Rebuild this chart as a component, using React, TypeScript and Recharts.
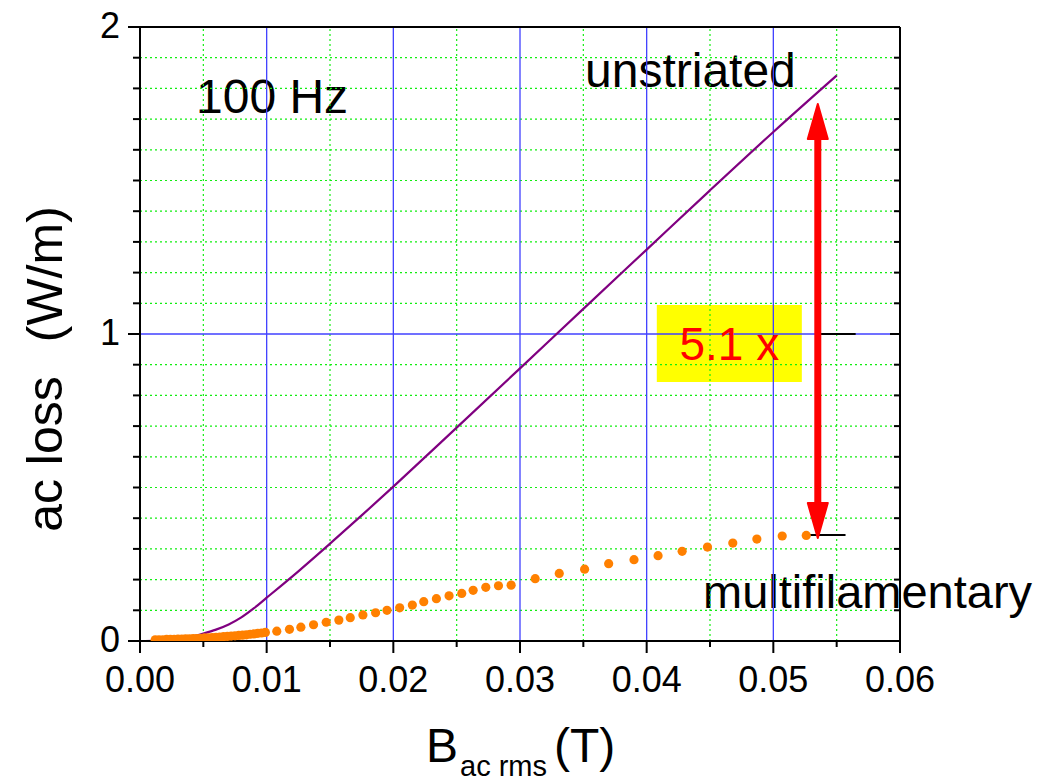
import React from "react";
import {
  ComposedChart,
  Line,
  Scatter,
  XAxis,
  YAxis,
  ReferenceLine,
  ReferenceArea,
  Customized,
} from "recharts";

// ---- data ----
const unstriatedB = [0.0004, 0.001, 0.002, 0.003, 0.004, 0.005, 0.006, 0.007, 0.008, 0.009, 0.01, 0.0125, 0.015, 0.0175, 0.02, 0.025, 0.03, 0.035, 0.04, 0.045, 0.05, 0.055];
const unstriatedLoss = [0, 0.0004, 0.002, 0.006, 0.013, 0.024, 0.037, 0.054, 0.077, 0.107, 0.141, 0.227, 0.317, 0.409, 0.503, 0.695, 0.888, 1.082, 1.275, 1.468, 1.658, 1.842];

const multiB = [
  0.0012, 0.0015, 0.0018, 0.0021, 0.0024, 0.0027, 0.003, 0.0033, 0.0036, 0.0039,
  0.0042, 0.0045, 0.0048, 0.0051, 0.0054, 0.0057, 0.006, 0.0063, 0.0066, 0.0069,
  0.0072, 0.0075, 0.0078, 0.0081, 0.0084, 0.0087, 0.009, 0.0093, 0.0096, 0.0099,
  0.0108, 0.0118, 0.0127, 0.0137, 0.0147, 0.0157, 0.0166, 0.0176, 0.0186, 0.0195,
  0.0205, 0.0215, 0.0224, 0.0234, 0.0244, 0.0254, 0.0263, 0.0273, 0.0283, 0.0293,
  0.0312, 0.0331, 0.0351, 0.037, 0.039, 0.0409, 0.0428, 0.0448, 0.0468, 0.0487,
  0.0507, 0.0526,
];
const multiLoss = [
  0.004, 0.004, 0.004, 0.005, 0.005, 0.005, 0.006, 0.006, 0.007, 0.007,
  0.008, 0.008, 0.009, 0.01, 0.01, 0.011, 0.012, 0.013, 0.014, 0.015,
  0.016, 0.017, 0.018, 0.019, 0.02, 0.022, 0.023, 0.025, 0.026, 0.028,
  0.032, 0.038, 0.045, 0.053, 0.061, 0.068, 0.076, 0.085, 0.092, 0.1,
  0.108, 0.117, 0.128, 0.138, 0.147, 0.155, 0.165, 0.175, 0.18, 0.182,
  0.203, 0.22, 0.234, 0.252, 0.265, 0.278, 0.292, 0.306, 0.319, 0.332,
  0.342, 0.344,
];

const xTicks = [0, 0.005, 0.01, 0.015, 0.02, 0.025, 0.03, 0.035, 0.04, 0.045, 0.05, 0.055, 0.06];
const xTickLabels = ["0.00", "", "0.01", "", "0.02", "", "0.03", "", "0.04", "", "0.05", "", "0.06"];
const yTicks = [0, 0.1, 0.2, 0.3, 0.4, 0.5, 0.6, 0.7, 0.8, 0.9, 1, 1.1, 1.2, 1.3, 1.4, 1.5, 1.6, 1.7, 1.8, 1.9, 2];
const yTickLabels = ["0", "", "", "", "", "", "", "", "", "", "1", "", "", "", "", "", "", "", "", "", "2"];

const greenVGrid = [0.005, 0.015, 0.025, 0.035, 0.045, 0.055];
const blueVGrid = [0.01, 0.02, 0.03, 0.04, 0.05];
const greenHGrid = [0.1, 0.2, 0.3, 0.4, 0.5, 0.6, 0.7, 0.8, 0.9, 1.1, 1.2, 1.3, 1.4, 1.5, 1.6, 1.7, 1.8, 1.9];
const blueHGrid = [1];

// annotation: ratio arrow between curves at B ≈ 0.0535 T
const arrowB = 0.05351;
const arrowTop = 1.749;
const arrowBottom = 0.3355;
const arrowShaftTop = 1.635;
const arrowShaftBottom = 0.446;
const ratioLabel = "5.1 x";
const ratioBox = { x1: 0.0408, x2: 0.05225, y1: 0.8436, y2: 1.0945 };
const markerTop = { x1: 0.0536, x2: 0.0565, y: 1.0 };
const markerBottom = { x1: 0.0527, x2: 0.0557, y: 0.345 };

const unstriatedData = unstriatedB.map((b, i) => ({ x: b, y: unstriatedLoss[i] }));
const multiData = multiB.map((b, i) => ({ x: b, y: multiLoss[i] }));
const arrowData = [
  { x: arrowB, y: arrowTop, dir: "up" },
  { x: arrowB, y: arrowBottom, dir: "down" },
];

const FONT = "'Liberation Sans', Arial, Helvetica, sans-serif";

const labelFor = (v: number, ticks: number[], labels: string[]) => {
  const i = ticks.findIndex((t) => Math.abs(t - v) < 1e-9);
  return i >= 0 ? labels[i] : "";
};

const BottomTick = (p: any) => {
  const lab = labelFor(p.payload.value, xTicks, xTickLabels);
  const major = lab !== "";
  return (
    <g>
      <line x1={p.x} y1={p.y} x2={p.x} y2={p.y + (major ? 12 : 6)} stroke="#000" strokeWidth={2} />
      {major && (
        <text x={p.x} y={p.y + 51} textAnchor="middle" fontSize={36} fontFamily={FONT} fill="#000">
          {lab}
        </text>
      )}
    </g>
  );
};

const TopTick = (p: any) => {
  const major = labelFor(p.payload.value, xTicks, xTickLabels) !== "";
  return <line x1={p.x} y1={p.y} x2={p.x} y2={p.y + (major ? 12 : 6)} stroke="#000" strokeWidth={2} />;
};

const LeftTick = (p: any) => {
  const lab = labelFor(p.payload.value, yTicks, yTickLabels);
  const major = lab !== "";
  return (
    <g>
      <line x1={p.x} y1={p.y} x2={p.x - (major ? 12 : 7)} y2={p.y} stroke="#000" strokeWidth={2} />
      {major && (
        <text x={p.x - 20} y={p.y + 11} textAnchor="end" fontSize={36} fontFamily={FONT} fill="#000">
          {lab}
        </text>
      )}
    </g>
  );
};

const RightTick = (p: any) => {
  const major = labelFor(p.payload.value, yTicks, yTickLabels) !== "";
  return <line x1={p.x} y1={p.y} x2={p.x - (major ? 10 : 6)} y2={p.y} stroke="#000" strokeWidth={2} />;
};

const Dot = (p: any) => <circle cx={p.cx} cy={p.cy} r={4.6} fill="#ff8000" />;

const ArrowHead = (p: any) => {
  const { cx, cy, payload } = p;
  const h = 35;
  const w = 10;
  const d =
    payload.dir === "up"
      ? `M${cx},${cy} L${cx + w},${cy + h} L${cx - w},${cy + h} Z`
      : `M${cx},${cy} L${cx + w},${cy - h} L${cx - w},${cy - h} Z`;
  return <path d={d} fill="#ff0000" stroke="#ff0000" strokeWidth={2} strokeLinejoin="round" />;
};

const Texts = () => (
  <g fontFamily={FONT} fill="#000">
    <text x={196} y={113} fontSize={48}>100 Hz</text>
    <text x={585} y={87} fontSize={48}>unstriated</text>
    <text x={703} y={608} fontSize={47}>multifilamentary</text>
    <text x={426} y={762} fontSize={48}>B</text>
    <text x={460} y={776} fontSize={29}>ac rms</text>
    <text x={554} y={762} fontSize={48}>(T)</text>
    <text transform="translate(62,369) rotate(-90)" textAnchor="middle" fontSize={50}>
      <tspan>ac loss</tspan>
      <tspan dx={34}>(W/m)</tspan>
    </text>
  </g>
);

export default function App() {
  return (
    <div style={{ width: 1041, height: 782, margin: "-8px 0 0 -8px" }}>
      <ComposedChart
        width={1041}
        height={782}
        margin={{ top: 17, right: 131, bottom: 61, left: 60 }}
      >
        <XAxis
          dataKey="x"
          type="number"
          domain={[0, 0.06]}
          allowDataOverflow
          ticks={xTicks}
          interval={0}
          height={80}
          tickSize={0}
          tickMargin={0}
          tickLine={false}
          axisLine={{ stroke: "#000", strokeWidth: 2 }}
          tick={<BottomTick />}
        />
        <XAxis
          xAxisId="top"
          orientation="top"
          type="number"
          domain={[0, 0.06]}
          allowDataOverflow
          ticks={xTicks}
          interval={0}
          height={10}
          tickSize={0}
          tickMargin={0}
          tickLine={false}
          axisLine={{ stroke: "#000", strokeWidth: 2 }}
          tick={<TopTick />}
        />
        <YAxis
          type="number"
          domain={[0, 2]}
          allowDataOverflow
          ticks={yTicks}
          interval={0}
          width={80}
          tickSize={0}
          tickMargin={0}
          tickLine={false}
          axisLine={{ stroke: "#000", strokeWidth: 2 }}
          tick={<LeftTick />}
        />
        <YAxis
          yAxisId="right"
          orientation="right"
          type="number"
          domain={[0, 2]}
          allowDataOverflow
          ticks={yTicks}
          interval={0}
          width={10}
          tickSize={0}
          tickMargin={0}
          tickLine={false}
          axisLine={{ stroke: "#000", strokeWidth: 2 }}
          tick={<RightTick />}
        />

        {greenVGrid.map((v) => (
          <ReferenceLine key={"gv" + v} x={v} stroke="#11ee11" strokeWidth={1.2} strokeDasharray="2 3" />
        ))}
        {greenHGrid.map((v) => (
          <ReferenceLine key={"gh" + v} y={v} stroke="#11ee11" strokeWidth={1.2} strokeDasharray="2 3" />
        ))}
        {blueVGrid.map((v) => (
          <ReferenceLine key={"bv" + v} x={v} stroke="#4040ff" strokeWidth={1.3} />
        ))}
        {blueHGrid.map((v) => (
          <ReferenceLine key={"bh" + v} y={v} stroke="#4040ff" strokeWidth={1.3} />
        ))}

        <Line
          data={unstriatedData}
          dataKey="y"
          type="monotone"
          stroke="#800080"
          strokeWidth={2.2}
          dot={false}
          isAnimationActive={false}
        />
        <Scatter data={multiData} dataKey="y" shape={<Dot />} isAnimationActive={false} />

        <ReferenceArea
          x1={ratioBox.x1}
          x2={ratioBox.x2}
          y1={ratioBox.y1}
          y2={ratioBox.y2}
          fill="#ffff00"
          fillOpacity={1}
          stroke="none"
          label={{ value: ratioLabel, position: "center", fill: "#ff0000", fontSize: 46, fontFamily: FONT }}
        />
        <ReferenceLine
          segment={[{ x: markerTop.x1, y: markerTop.y }, { x: markerTop.x2, y: markerTop.y }]}
          stroke="#000"
          strokeWidth={2}
        />
        <ReferenceLine
          segment={[{ x: markerBottom.x1, y: markerBottom.y }, { x: markerBottom.x2, y: markerBottom.y }]}
          stroke="#000"
          strokeWidth={2}
        />
        <ReferenceLine
          segment={[{ x: arrowB, y: arrowShaftTop }, { x: arrowB, y: arrowShaftBottom }]}
          stroke="#ff0000"
          strokeWidth={7}
        />
        <Scatter data={arrowData} dataKey="y" shape={<ArrowHead />} isAnimationActive={false} />
        <Customized component={<Texts />} />
      </ComposedChart>
    </div>
  );
}
